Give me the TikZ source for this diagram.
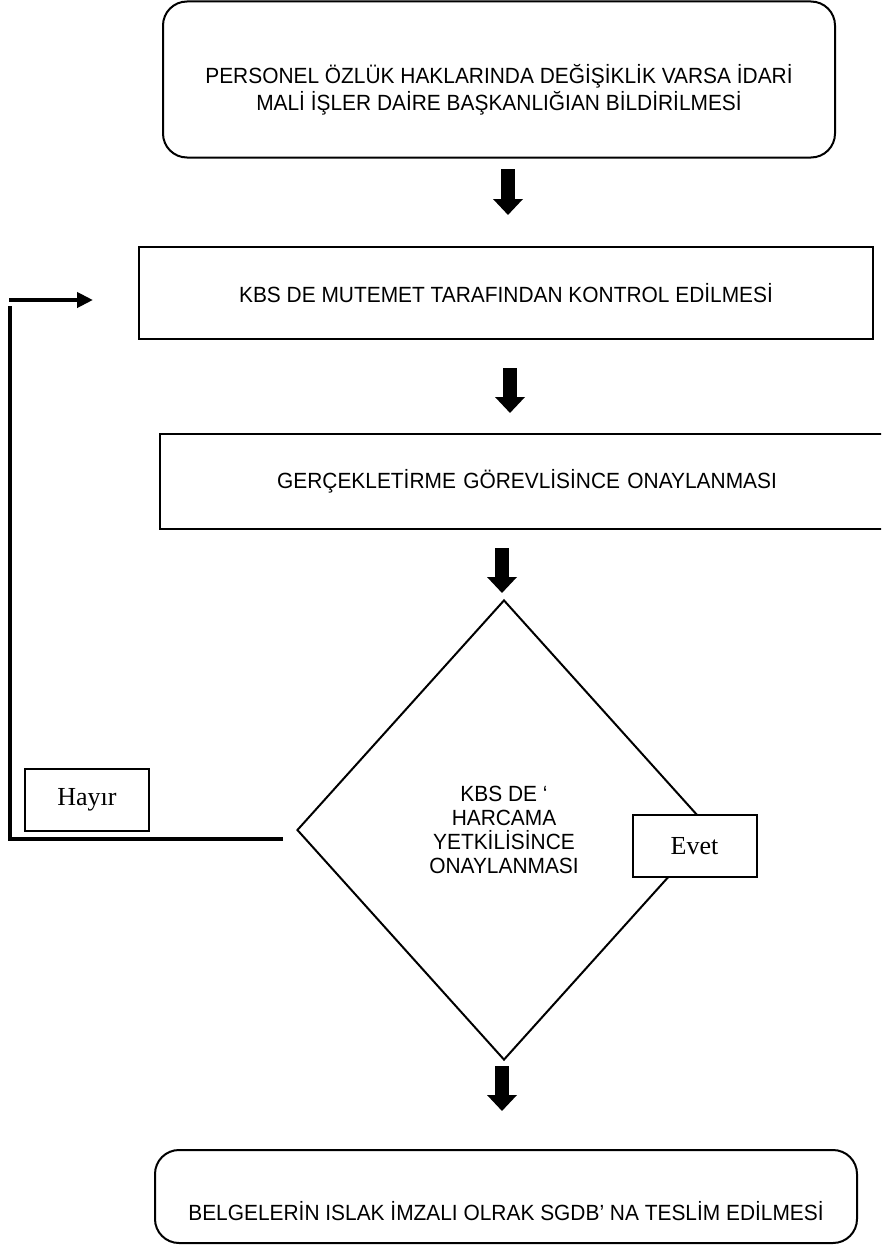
\documentclass[tikz,border=0pt]{standalone}
\usepackage{fontspec}
\setmainfont[FakeStretch=0.95]{Liberation Sans}
\newfontfamily\timesf{Liberation Serif}
\usetikzlibrary{shapes.geometric,arrows.meta}
\begin{document}
\begin{tikzpicture}[x=1pt,y=-1pt,
  box/.style={draw, line width=2pt, inner sep=0pt, font=\fontsize{22}{26}\selectfont, align=center},
  rbox/.style={box, rounded corners=24pt},
  txt/.style={font=\fontsize{22}{27}\selectfont, align=center, inner sep=0pt},
  lbl/.style={draw, fill=white, line width=2pt, font=\timesf\fontsize{26}{30}\selectfont, minimum width=124pt, minimum height=62pt, inner sep=0pt},
  blockarrow/.style={line width=14pt, -{Triangle[width=29pt,length=16pt]}},
  loopline/.style={line width=4pt}
]
\useasboundingbox (0,0) rectangle (881,1247);
\clip (0,0) rectangle (881,1247);

% boxes
\node[rbox, minimum width=672pt, minimum height=156pt] (n1) at (499,79.5) {};
\node[txt] (t1) at (499,90) {PERSONEL ÖZLÜK HAKLARINDA DEĞİŞİKLİK VARSA İDARİ\\MALİ İŞLER DAİRE BAŞKANLIĞIAN BİLDİRİLMESİ};

\node[box, minimum width=734pt, minimum height=92pt] (n2) at (506,293) {KBS DE MUTEMET TARAFINDAN KONTROL EDİLMESİ};

\node[box, minimum width=740pt, minimum height=95pt, text width=734pt] (n3) at (530,481.5) {\hspace*{-6pt}GERÇEKLETİRME GÖREVLİSİNCE ONAYLANMASI};

\node[diamond, draw, line width=2pt, minimum width=414pt, minimum height=460pt, inner sep=0pt, font=\fontsize{22}{24}\selectfont, align=center] (dec) at (504,830) {KBS DE ‘\\HARCAMA\\YETKİLİSİNCE\\ONAYLANMASI};

\node[rbox, minimum width=702pt, minimum height=93pt] (n5) at (506,1196.5) {};
\node[txt] (t5) at (506,1211) {BELGELERİN ISLAK İMZALI OLRAK SGDB’ NA TESLİM EDİLMESİ};

\node[lbl] (hayir) at (87,800) {Hayır};
\node[lbl] (evet) at (694.5,846) {Evet};

% block arrows
\coordinate (a1s) at (508,169); \coordinate (a1e) at (508,215);
\coordinate (a2s) at (510,368); \coordinate (a2e) at (510,413);
\coordinate (a3s) at (502,548); \coordinate (a3e) at (502,593);
\coordinate (a4s) at (502,1066); \coordinate (a4e) at (502,1111);
\draw[blockarrow] (a1s) -- (a1e);
\draw[blockarrow] (a2s) -- (a2e);
\draw[blockarrow] (a3s) -- (a3e);
\draw[blockarrow] (a4s) -- (a4e);

% loop back
\coordinate (lb) at (283,839);
\coordinate (lc) at (9.5,839);
\coordinate (lt) at (9.5,306);
\coordinate (ls) at (9,300);
\coordinate (le) at (93,300);
\draw[loopline] (lb) -- (lc) -- (lt);
\draw[loopline, -{Triangle[width=15pt,length=16pt]}] (ls) -- (le);
\end{tikzpicture}
\end{document}
